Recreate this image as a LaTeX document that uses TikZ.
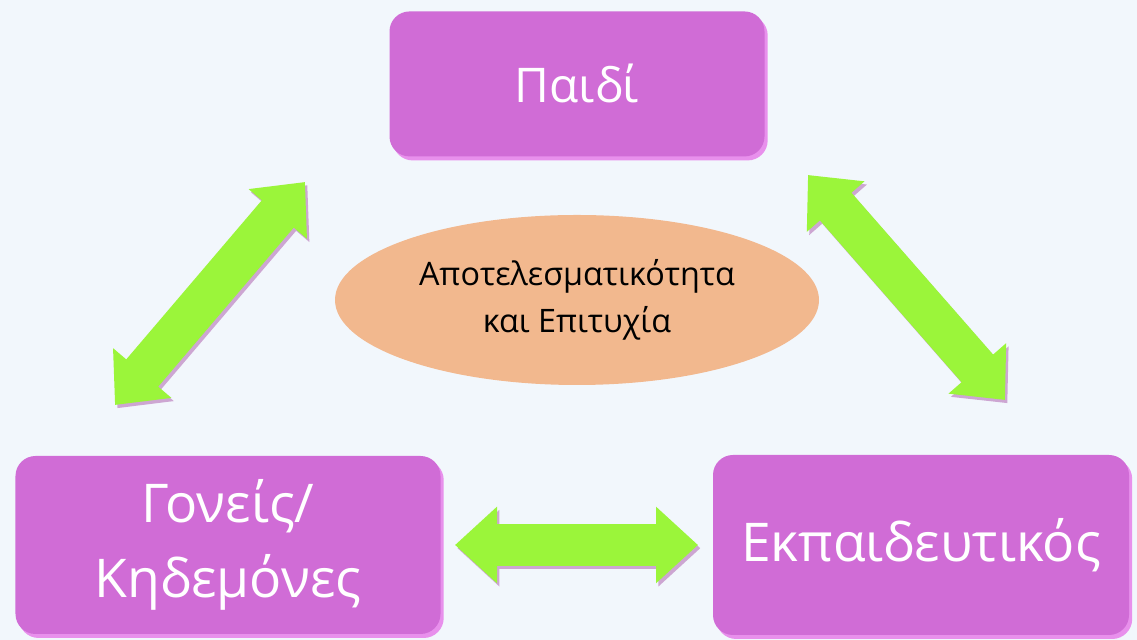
\documentclass[tikz,border=0pt]{standalone}
\usepackage{fontspec}
\setmainfont{Open Sans}
\usetikzlibrary{arrows.meta,positioning,shapes.geometric,shadows}

\definecolor{bgblue}{HTML}{F2F7FC}
\definecolor{boxpurple}{HTML}{D06CD6}
\definecolor{boxedge}{HTML}{E890EC}
\definecolor{goalorange}{HTML}{F2B88E}
\definecolor{linkgreen}{HTML}{9BF53A}
\definecolor{linkshade}{HTML}{CDA6D2}

\tikzset{
  role/.style={rectangle, rounded corners=0.5cm, fill=boxpurple, text=white, align=center,
    drop shadow={shadow xshift=0.08cm, shadow yshift=-0.1cm, fill=boxedge, opacity=1}},
  goal/.style={ellipse, fill=goalorange, inner sep=0pt, minimum width=12.1cm,
    minimum height=4.25cm, align=center, font=\fontsize{23}{33}\selectfont},
  link/.style={line width=1.05cm, draw=linkgreen,
    {Triangle[length=1.05cm,width=1.85cm]}-{Triangle[length=1.05cm,width=1.85cm]}},
  linkshadow/.style={link, draw=linkshade, transform canvas={shift={(0.06cm,-0.08cm)}}},
}

\begin{document}
\begin{tikzpicture}
	\useasboundingbox (0,0) rectangle (28.425,16);
	\fill[bgblue] (0,0) rectangle (28.425,16);

	\node[goal] (goal) at (14.425,8.5) {Αποτελεσματικότητα\\και Επιτυχία};
	\node[role, minimum width=9.375cm, minimum height=3.625cm, font=\fontsize{34}{40}\selectfont]
		[above=1.45cm of goal] (paidi) {Παιδί};
	\node[role, minimum width=10.625cm, minimum height=4.45cm, font=\fontsize{38}{53}\selectfont]
		(goneis) at (5.7,2.375) {Γονείς/\\Κηδεμόνες};
	\node[role, minimum width=10.4cm, minimum height=4.5cm, font=\fontsize{38}{44}\selectfont]
		(ekp) at (23.025,2.375) {Εκπαιδευτικός};

	% arrow ends
	\coordinate (goneisUp) at (2.875,5.875);
	\coordinate (paidiLeft) at (7.625,11.45);
	\coordinate (paidiRight) at (20.2,11.625);
	\coordinate (ekpUp) at (25.125,6.0);
	\coordinate (goneisRight) at (11.375,2.375);
	\coordinate (ekpLeft) at (17.45,2.375);

	\draw[linkshadow] (goneisUp) -- (paidiLeft);
	\draw[linkshadow] (paidiRight) -- (ekpUp);
	\draw[linkshadow] (goneisRight) -- (ekpLeft);
	\draw[link] (goneisUp) -- (paidiLeft);
	\draw[link] (paidiRight) -- (ekpUp);
	\draw[link] (goneisRight) -- (ekpLeft);
\end{tikzpicture}
\end{document}
